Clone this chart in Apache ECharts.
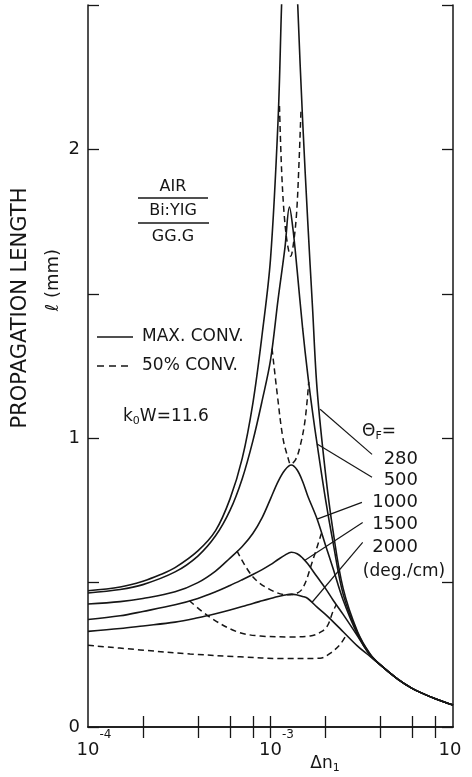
<!DOCTYPE html>
<html>
<head>
<meta charset="utf-8">
<title>Propagation length vs Δn1</title>
<script src="https://cdn.jsdelivr.net/npm/echarts@6.0.0/dist/echarts.min.js"></script>
<style>
  html, body { margin: 0; padding: 0; background: #fff; }
  #chart { width: 472px; height: 777px; }
</style>
</head>
<body>
<div id="chart"></div>
<script>
// Axis ticks and labels
const xTickValues = [2e-4, 4e-4, 6e-4, 8e-4, 1e-3, 2e-3, 4e-3, 6e-3, 8e-3];
const xLabelValues = [1e-4, 1e-3, 1e-2];
const yLabelValues = [0, 1, 2];

// Far-off-resonance tail shared by every curve
const tailX = [4e-3, 5e-3, 6e-3, 7e-3, 8e-3, 1e-2];
const tailY = [0.215, 0.165, 0.133, 0.113, 0.098, 0.076];

// Maximum-conversion length (mm) for each Faraday rotation θF (deg/cm)
const max280X = [1e-4, 1.5e-4, 2e-4, 2.5e-4, 3e-4, 4e-4, 5e-4, 6e-4, 7e-4, 8e-4, 9e-4, 1e-3, 1.1e-3, 1.15e-3, 1.27e-3, 1.41e-3, 1.5e-3, 1.6e-3, 1.7e-3, 1.8e-3, 2e-3, 2.2e-3, 2.5e-3, 3e-3, 3.5e-3];
const max280Y = [0.472, 0.485, 0.505, 0.528, 0.552, 0.61, 0.68, 0.79, 0.93, 1.12, 1.36, 1.62, 2.1, 2.5, 3.3, 2.5, 2.1, 1.75, 1.45, 1.17, 0.88, 0.68, 0.48, 0.33, 0.255];

const max500X = [1e-4, 1.5e-4, 2e-4, 3e-4, 4e-4, 5e-4, 6e-4, 7e-4, 8e-4, 9e-4, 1e-3, 1.1e-3, 1.2e-3, 1.27e-3, 1.33e-3, 1.4e-3, 1.5e-3, 1.6e-3, 1.7e-3, 1.8e-3, 2e-3, 2.2e-3, 2.5e-3, 3e-3, 3.5e-3];
const max500Y = [0.464, 0.476, 0.493, 0.537, 0.592, 0.662, 0.75, 0.86, 0.99, 1.13, 1.27, 1.48, 1.66, 1.80, 1.72, 1.58, 1.38, 1.22, 1.09, 0.98, 0.79, 0.64, 0.46, 0.325, 0.252];

const max1000X = [1e-4, 1.5e-4, 2e-4, 3e-4, 4e-4, 5e-4, 6e-4, 7e-4, 8e-4, 9e-4, 1e-3, 1.1e-3, 1.2e-3, 1.3e-3, 1.4e-3, 1.5e-3, 1.6e-3, 1.8e-3, 2e-3, 2.2e-3, 2.5e-3, 3e-3, 3.5e-3];
const max1000Y = [0.426, 0.434, 0.445, 0.468, 0.50, 0.54, 0.585, 0.625, 0.67, 0.725, 0.79, 0.85, 0.89, 0.907, 0.89, 0.85, 0.80, 0.72, 0.63, 0.55, 0.44, 0.32, 0.25];

const max1500X = [1e-4, 1.5e-4, 2e-4, 3e-4, 4e-4, 5e-4, 6e-4, 7e-4, 8e-4, 9e-4, 1e-3, 1.1e-3, 1.2e-3, 1.3e-3, 1.4e-3, 1.5e-3, 1.6e-3, 1.8e-3, 2e-3, 2.2e-3, 2.5e-3, 3e-3, 3.5e-3];
const max1500Y = [0.372, 0.385, 0.40, 0.423, 0.445, 0.468, 0.49, 0.51, 0.528, 0.545, 0.562, 0.58, 0.595, 0.605, 0.60, 0.585, 0.565, 0.52, 0.48, 0.44, 0.39, 0.315, 0.25];

const max2000X = [1e-4, 1.5e-4, 2e-4, 3e-4, 4e-4, 5e-4, 6e-4, 7e-4, 8e-4, 9e-4, 1e-3, 1.1e-3, 1.2e-3, 1.3e-3, 1.4e-3, 1.5e-3, 1.6e-3, 1.8e-3, 2e-3, 2.2e-3, 2.5e-3, 3e-3, 3.5e-3];
const max2000Y = [0.331, 0.341, 0.35, 0.363, 0.378, 0.392, 0.405, 0.417, 0.428, 0.437, 0.445, 0.452, 0.457, 0.46, 0.457, 0.452, 0.445, 0.415, 0.39, 0.365, 0.33, 0.28, 0.245];

// 50 %-conversion length (mm)
const half280X = [1.12e-3, 1.15e-3, 1.19e-3, 1.24e-3, 1.29e-3, 1.34e-3, 1.39e-3, 1.43e-3, 1.47e-3];
const half280Y = [2.15, 1.93, 1.77, 1.67, 1.63, 1.68, 1.78, 1.94, 2.14];

const half500X = [1.02e-3, 1.09e-3, 1.17e-3, 1.25e-3, 1.29e-3, 1.37e-3, 1.45e-3, 1.545e-3, 1.62e-3];
const half500Y = [1.31, 1.15, 1.0, 0.93, 0.91, 0.925, 0.97, 1.06, 1.195];

const half1000X = [6.55e-4, 8e-4, 1e-3, 1.23e-3, 1.35e-3, 1.5e-3, 1.7e-3, 1.9e-3];
const half1000Y = [0.61, 0.52, 0.475, 0.458, 0.46, 0.48, 0.575, 0.67];

const half1500X = [3.6e-4, 4.66e-4, 6.55e-4, 8.8e-4, 1.3e-3, 1.65e-3, 1.9e-3, 2.05e-3, 2.2e-3, 2.3e-3];
const half1500Y = [0.437, 0.38, 0.33, 0.315, 0.312, 0.315, 0.33, 0.35, 0.40, 0.425];

const half2000X = [1e-4, 1.93e-4, 3.62e-4, 6.8e-4, 1.17e-3, 1.87e-3, 2.12e-3, 2.4e-3, 2.62e-3];
const half2000Y = [0.283, 0.267, 0.253, 0.243, 0.237, 0.238, 0.255, 0.285, 0.322];

const thetaLabels = ['280', '500', '1000', '1500', '2000'];

// ---------------------------------------------------------------
const INK = '#161616';
const FONT = 'DejaVu Sans';

const pairs = (xs, ys) => xs.map((x, i) => [x, ys[i]]);
const withTail = (xs, ys) => pairs(xs.concat(tailX), ys.concat(tailY));

const solidCurves = [
  withTail(max280X, max280Y),
  withTail(max500X, max500Y),
  withTail(max1000X, max1000Y),
  withTail(max1500X, max1500Y),
  withTail(max2000X, max2000Y)
];
const dashedCurves = [
  pairs(half280X, half280Y),
  pairs(half500X, half500Y),
  pairs(half1000X, half1000Y),
  pairs(half1500X, half1500Y),
  pairs(half2000X, half2000Y)
];

// leader lines from the θF labels to their curves (data coordinates)
const leaders = [
  [[3.6e-3, 0.944], [1.87e-3, 1.10]],
  [[3.6e-3, 0.865], [1.80e-3, 0.98]],
  [[3.17e-3, 0.778], [1.80e-3, 0.72]],
  [[3.2e-3, 0.708], [1.545e-3, 0.577]],
  [[3.2e-3, 0.639], [1.69e-3, 0.432]]
];

const series = [];
solidCurves.forEach((d, i) => series.push({
  name: 'max' + thetaLabels[i], type: 'line', data: d, smooth: 0.35,
  showSymbol: false, clip: true, silent: true,
  lineStyle: { color: INK, width: 1.6 }
}));
dashedCurves.forEach((d, i) => series.push({
  name: 'half' + thetaLabels[i], type: 'line', data: d, smooth: 0.35,
  showSymbol: false, clip: true, silent: true,
  lineStyle: { color: INK, width: 1.5, type: [6, 4] }
}));
leaders.forEach((d, i) => series.push({
  name: 'leader' + thetaLabels[i], type: 'line', data: d,
  showSymbol: false, silent: true,
  lineStyle: { color: INK, width: 1.2 }
}));

const decadeLabel = v => {
  const e = Math.round(Math.log10(v));
  return e === -2 ? '{b|10}{q| }' : '{p| }{b|10}{s|' + e + '}';
};

const axisLineStyle = { color: INK, width: 1.5 };
const tickStyle = { color: INK, width: 1.3 };
const subRich = {
  a: { fontFamily: FONT, fontSize: 17, fill: INK },
  b: { fontFamily: FONT, fontSize: 11, fill: INK, verticalAlign: 'bottom', padding: [8, 0, 0, 0] }
};

const option = {
  animation: false,
  backgroundColor: '#ffffff',
  grid: { left: 88, right: 19, top: 5, bottom: 50 },
  xAxis: [{
    type: 'log', logBase: 10, min: 1e-4, max: 1e-2, position: 'bottom',
    axisLine: { show: true, lineStyle: axisLineStyle },
    axisTick: { show: true, inside: true, length: 11, customValues: xTickValues, lineStyle: tickStyle },
    axisLabel: {
      customValues: xLabelValues, margin: 2, formatter: decadeLabel, color: INK,
      rich: {
        b: { fontFamily: FONT, fontSize: 18, lineHeight: 30, color: INK, verticalAlign: 'bottom' },
        s: { fontFamily: FONT, fontSize: 12, lineHeight: 16, color: INK, verticalAlign: 'top' },
        p: { width: 12 },
        q: { width: 6 }
      }
    },
    splitLine: { show: false }
  }, {
    type: 'log', logBase: 10, min: 1e-4, max: 1e-2, position: 'top',
    axisLine: { show: true, lineStyle: axisLineStyle },
    axisTick: { show: true, inside: true, length: 11, customValues: xTickValues, lineStyle: tickStyle },
    axisLabel: { show: false },
    splitLine: { show: false }
  }],
  yAxis: [{
    type: 'value', min: 0, max: 2.5, interval: 0.5, position: 'left',
    axisLine: { show: true, lineStyle: axisLineStyle },
    axisTick: { show: true, inside: true, length: 11, lineStyle: tickStyle },
    axisLabel: { customValues: yLabelValues, margin: 8, fontFamily: FONT, fontSize: 18, color: INK },
    splitLine: { show: false }
  }, {
    type: 'value', min: 0, max: 2.5, interval: 0.5, position: 'right',
    axisLine: { show: true, lineStyle: axisLineStyle },
    axisTick: { show: true, inside: true, length: 11, lineStyle: tickStyle },
    axisLabel: { show: false },
    splitLine: { show: false }
  }],
  series: series,
  graphic: [
    // axis titles
    { type: 'text', x: 21, y: 308, rotation: Math.PI / 2,
      style: { text: 'PROPAGATION LENGTH', font: '21px "DejaVu Sans"', fill: INK, textAlign: 'center', textVerticalAlign: 'middle' } },
    { type: 'text', x: 53, y: 280, rotation: Math.PI / 2,
      style: { text: 'ℓ (mm)', font: '18px "DejaVu Sans"', fill: INK, textAlign: 'center', textVerticalAlign: 'middle' } },
    { type: 'text', x: 325, y: 764,
      style: { text: '{a|Δn}{b|1}', fill: INK, textAlign: 'center', textVerticalAlign: 'middle', rich: subRich } },
    // layer stack
    { type: 'text', x: 173, y: 187, style: { text: 'AIR', font: '16px "DejaVu Sans"', fill: INK, textAlign: 'center', textVerticalAlign: 'middle' } },
    { type: 'line', shape: { x1: 138, y1: 198, x2: 208, y2: 198 }, style: { stroke: INK, lineWidth: 1.4 } },
    { type: 'text', x: 173, y: 211, style: { text: 'Bi:YIG', font: '16px "DejaVu Sans"', fill: INK, textAlign: 'center', textVerticalAlign: 'middle' } },
    { type: 'line', shape: { x1: 138, y1: 223, x2: 209, y2: 223 }, style: { stroke: INK, lineWidth: 1.4 } },
    { type: 'text', x: 173, y: 237, style: { text: 'GG.G', font: '16px "DejaVu Sans"', fill: INK, textAlign: 'center', textVerticalAlign: 'middle' } },
    // line-style key
    { type: 'line', shape: { x1: 97, y1: 337, x2: 133, y2: 337 }, style: { stroke: INK, lineWidth: 1.5 } },
    { type: 'text', x: 142, y: 337, style: { text: 'MAX. CONV.', font: '17px "DejaVu Sans"', fill: INK, textAlign: 'left', textVerticalAlign: 'middle' } },
    { type: 'line', shape: { x1: 97, y1: 366, x2: 133, y2: 366 }, style: { stroke: INK, lineWidth: 1.5, lineDash: [7, 5] } },
    { type: 'text', x: 142, y: 366, style: { text: '50% CONV.', font: '17px "DejaVu Sans"', fill: INK, textAlign: 'left', textVerticalAlign: 'middle' } },
    { type: 'text', x: 123, y: 417,
      style: { text: '{a|k}{b|0}{a|W=11.6}', fill: INK, textAlign: 'left', textVerticalAlign: 'middle', rich: subRich } },
    // θF labels
    { type: 'text', x: 362, y: 432,
      style: { text: '{a|Θ}{b|F}{a|=}', fill: INK, textAlign: 'left', textVerticalAlign: 'middle', rich: subRich } },
    { type: 'text', x: 418, y: 459, style: { text: thetaLabels[0], font: '18px "DejaVu Sans"', fill: INK, textAlign: 'right', textVerticalAlign: 'middle' } },
    { type: 'text', x: 418, y: 480, style: { text: thetaLabels[1], font: '18px "DejaVu Sans"', fill: INK, textAlign: 'right', textVerticalAlign: 'middle' } },
    { type: 'text', x: 418, y: 502, style: { text: thetaLabels[2], font: '18px "DejaVu Sans"', fill: INK, textAlign: 'right', textVerticalAlign: 'middle' } },
    { type: 'text', x: 418, y: 524, style: { text: thetaLabels[3], font: '18px "DejaVu Sans"', fill: INK, textAlign: 'right', textVerticalAlign: 'middle' } },
    { type: 'text', x: 418, y: 547, style: { text: thetaLabels[4], font: '18px "DejaVu Sans"', fill: INK, textAlign: 'right', textVerticalAlign: 'middle' } },
    { type: 'text', x: 404, y: 572, style: { text: '(deg./cm)', font: '17px "DejaVu Sans"', fill: INK, textAlign: 'center', textVerticalAlign: 'middle' } }
  ]
};

const chart = echarts.init(document.getElementById('chart'), null, { renderer: 'canvas' });
chart.setOption(option);
</script>
</body>
</html>
